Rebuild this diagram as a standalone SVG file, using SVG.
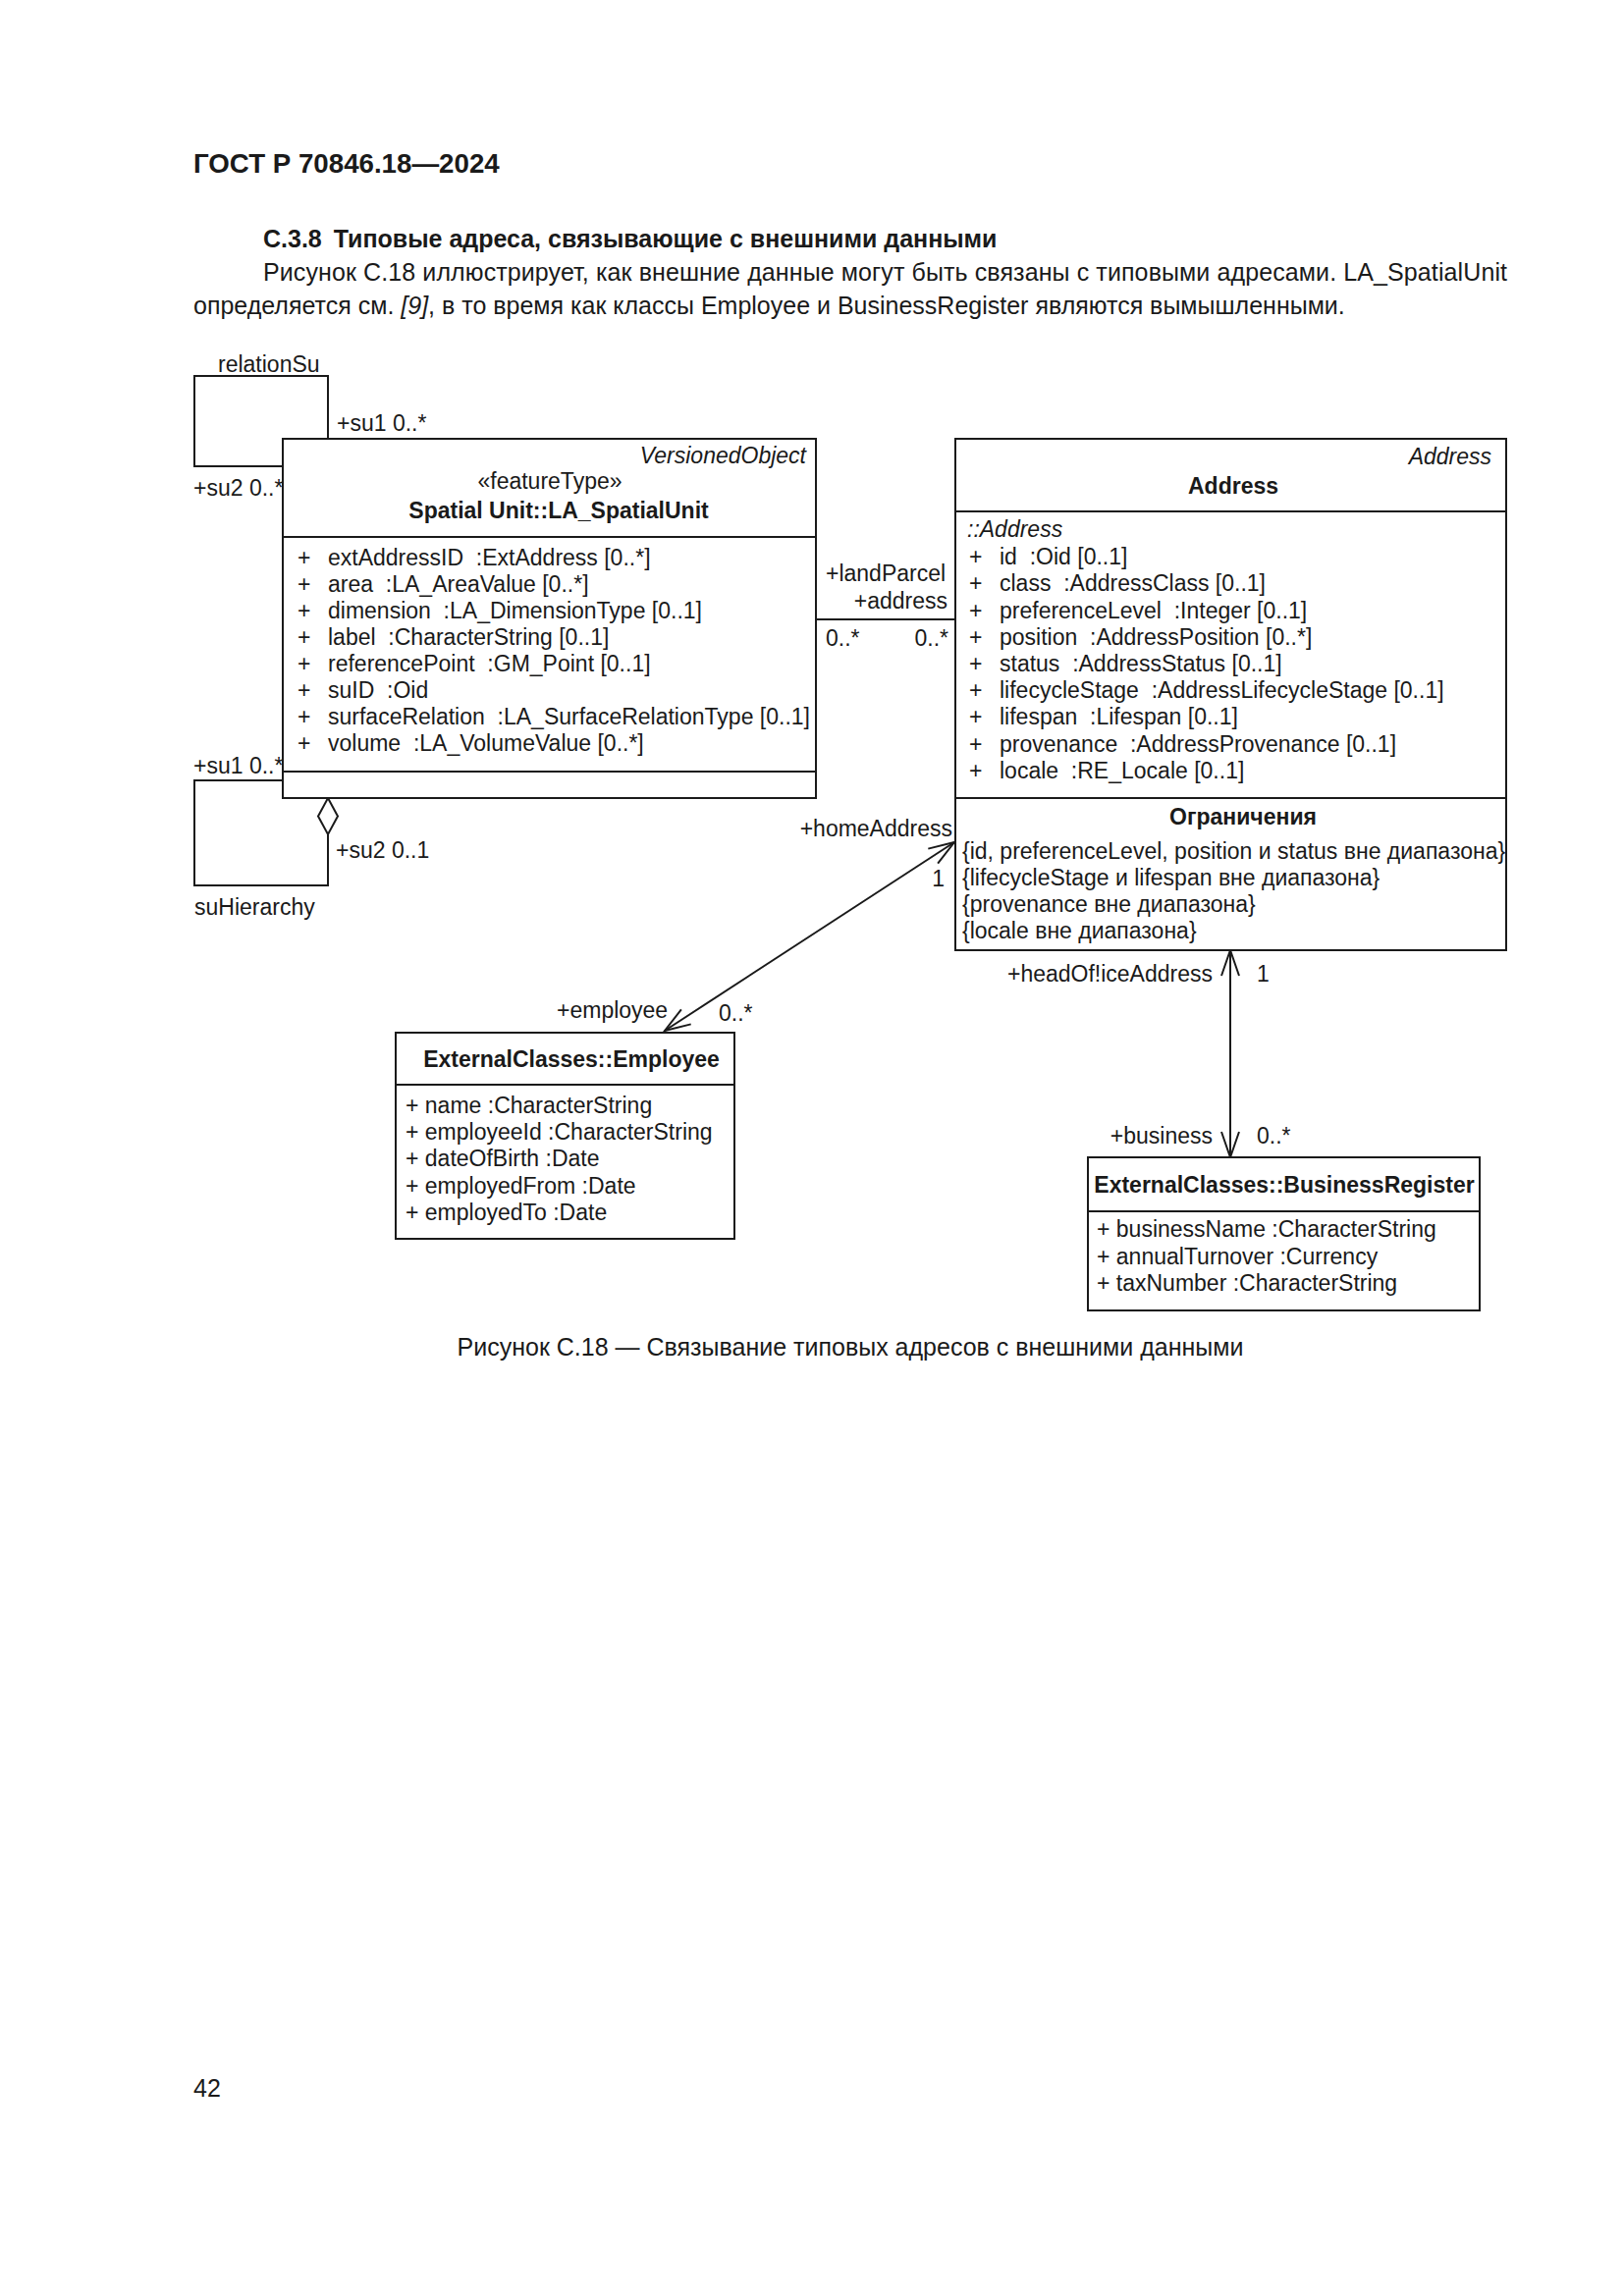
<svg xmlns="http://www.w3.org/2000/svg" width="1654" height="2339" viewBox="0 0 1654 2339">
<style>
text{font-family:"Liberation Sans",Arial,sans-serif;fill:#1a1a1a}
.d{font-size:23px}
.p{font-size:25px}
.b{font-weight:bold}
.i{font-style:italic}
.m{text-anchor:middle}
.e{text-anchor:end}
.box{fill:#fff;stroke:#1a1a1a;stroke-width:2}
.ln{fill:none;stroke:#1a1a1a;stroke-width:2}
</style>
<defs>
<marker id="open" viewBox="-30 -12 32 24" refX="0" refY="0" markerWidth="32" markerHeight="24" markerUnits="userSpaceOnUse" orient="auto-start-reverse">
<path d="M-26,-9 L0,0 L-26,9" fill="none" stroke="#1a1a1a" stroke-width="2"/>
</marker>
</defs>
<rect width="1654" height="2339" fill="#fff"/>

<g id="page-text">
<text x="197" y="176" class="b" font-size="27.7">ГОСТ Р 70846.18—2024</text>
<text x="268" y="252" class="p b">С.3.8<tspan dx="12">Типовые адреса, связывающие с внешними данными</tspan></text>
<text x="268" y="286" class="p" textLength="1267" lengthAdjust="spacing">Рисунок С.18 иллюстрирует, как внешние данные могут быть связаны с типовыми адресами. LA_SpatialUnit</text>
<text x="197" y="320" class="p">определяется см. <tspan class="i">[9]</tspan>, в то время как классы Employee и BusinessRegister являются вымышленными.</text>
<text x="866" y="1381" class="p m">Рисунок С.18 — Связывание типовых адресов с внешними данными</text>
<text x="197" y="2136" class="p">42</text>
</g>

<g id="connectors">
<path class="ln" d="M334,447 V383 H198 V475 H288"/>
<path class="ln" d="M334,850 V902 H198 V795 H288"/>
<path d="M334,813 L344,831.5 L334,850 L324,831.5 Z" fill="#fff" stroke="#1a1a1a" stroke-width="2"/>
<path class="ln" d="M831,631 H973"/>
<path class="ln" d="M677,1050 L972,858" marker-start="url(#open)" marker-end="url(#open)"/>
<path class="ln" d="M1253,968 V1179" marker-start="url(#open)" marker-end="url(#open)"/>
<text x="222" y="379" class="d">relationSu</text>
<text x="343" y="439" class="d">+su1 0..*</text>
<text x="197" y="505" class="d">+su2 0..*</text>
<text x="197" y="788" class="d">+su1 0..*</text>
<text x="342" y="874" class="d">+su2 0..1</text>
<text x="198" y="932" class="d">suHierarchy</text>
<text x="841" y="592" class="d">+landParcel</text>
<text x="965" y="620" class="d e">+address</text>
<text x="841" y="658" class="d">0..*</text>
<text x="966" y="658" class="d e">0..*</text>
<text x="970" y="852" class="d e">+homeAddress</text>
<text x="962" y="903" class="d e">1</text>
<text x="567" y="1037" class="d">+employee</text>
<text x="732" y="1040" class="d">0..*</text>
<text x="1235" y="1000" class="d e">+headOf!iceAddress</text>
<text x="1280" y="1000" class="d">1</text>
<text x="1235" y="1165" class="d e">+business</text>
<text x="1280" y="1165" class="d">0..*</text>
</g>

<g id="LA_SpatialUnit">
<rect class="box" x="288" y="447" width="543" height="366"/>
<path class="ln" d="M288,547 H831 M288,786 H831"/>
<text x="821" y="472" class="d i e">VersionedObject</text>
<text x="560" y="498" class="d m">«featureType»</text>
<text x="569" y="528" class="d b m">Spatial Unit::LA_SpatialUnit</text>
<g class="d">
<text x="303" y="576">+</text><text x="334" y="576">extAddressID&#160; :ExtAddress [0..*]</text>
<text x="303" y="603">+</text><text x="334" y="603">area&#160; :LA_AreaValue [0..*]</text>
<text x="303" y="630">+</text><text x="334" y="630">dimension&#160; :LA_DimensionType [0..1]</text>
<text x="303" y="657">+</text><text x="334" y="657">label&#160; :CharacterString [0..1]</text>
<text x="303" y="684">+</text><text x="334" y="684">referencePoint&#160; :GM_Point [0..1]</text>
<text x="303" y="711">+</text><text x="334" y="711">suID&#160; :Oid</text>
<text x="303" y="738">+</text><text x="334" y="738">surfaceRelation&#160; :LA_SurfaceRelationType [0..1]</text>
<text x="303" y="765">+</text><text x="334" y="765">volume&#160; :LA_VolumeValue [0..*]</text>
</g>
</g>

<g id="Address">
<rect class="box" x="973" y="447" width="561" height="521"/>
<path class="ln" d="M973,521 H1534 M973,813 H1534"/>
<text x="1519" y="473" class="d i e">Address</text>
<text x="1256" y="503" class="d b m">Address</text>
<text x="985" y="547" class="d i">::Address</text>
<g class="d">
<text x="987" y="575">+</text><text x="1018" y="575">id&#160; :Oid [0..1]</text>
<text x="987" y="602">+</text><text x="1018" y="602">class&#160; :AddressClass [0..1]</text>
<text x="987" y="630">+</text><text x="1018" y="630">preferenceLevel&#160; :Integer [0..1]</text>
<text x="987" y="657">+</text><text x="1018" y="657">position&#160; :AddressPosition [0..*]</text>
<text x="987" y="684">+</text><text x="1018" y="684">status&#160; :AddressStatus [0..1]</text>
<text x="987" y="711">+</text><text x="1018" y="711">lifecycleStage&#160; :AddressLifecycleStage [0..1]</text>
<text x="987" y="738">+</text><text x="1018" y="738">lifespan&#160; :Lifespan [0..1]</text>
<text x="987" y="766">+</text><text x="1018" y="766">provenance&#160; :AddressProvenance [0..1]</text>
<text x="987" y="793">+</text><text x="1018" y="793">locale&#160; :RE_Locale [0..1]</text>
</g>
<text x="1266" y="840" class="d b m">Ограничения</text>
<g class="d">
<text x="980" y="875">{id, preferenceLevel, position и status вне диапазона}</text>
<text x="980" y="902">{lifecycleStage и lifespan вне диапазона}</text>
<text x="980" y="929">{provenance вне диапазона}</text>
<text x="980" y="956">{locale вне диапазона}</text>
</g>
</g>

<g id="Employee">
<rect class="box" x="403" y="1052" width="345" height="210"/>
<path class="ln" d="M403,1105 H748"/>
<text x="582" y="1087" class="d b m">ExternalClasses::Employee</text>
<g class="d">
<text x="413" y="1134">+ name :CharacterString</text>
<text x="413" y="1161">+ employeeId :CharacterString</text>
<text x="413" y="1188">+ dateOfBirth :Date</text>
<text x="413" y="1216">+ employedFrom :Date</text>
<text x="413" y="1243">+ employedTo :Date</text>
</g>
</g>

<g id="BusinessRegister">
<rect class="box" x="1108" y="1179" width="399" height="156"/>
<path class="ln" d="M1108,1234 H1507"/>
<text x="1308" y="1215" class="d b m">ExternalClasses::BusinessRegister</text>
<g class="d">
<text x="1117" y="1260">+ businessName :CharacterString</text>
<text x="1117" y="1288">+ annualTurnover :Currency</text>
<text x="1117" y="1315">+ taxNumber :CharacterString</text>
</g>
</g>
</svg>
